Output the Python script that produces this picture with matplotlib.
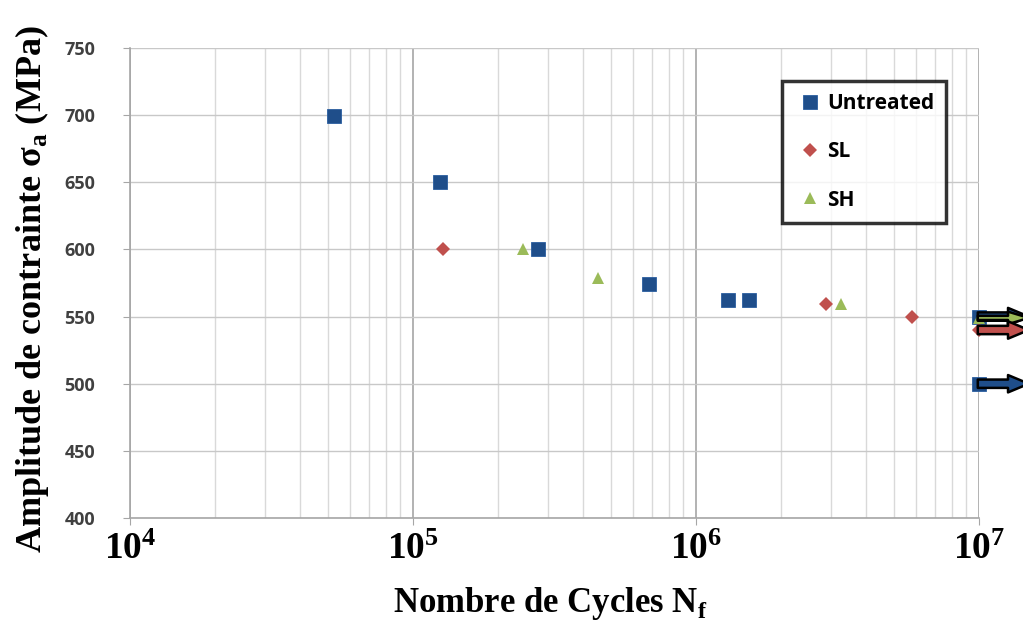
import numpy as np
import matplotlib
matplotlib.use('Agg')
from matplotlib import pyplot as plt
from matplotlib.ticker import LogLocator, FixedLocator, NullFormatter

plt.rcParams['mathtext.fontset'] = 'custom'
plt.rcParams['mathtext.rm'] = 'Liberation Serif:bold'
plt.rcParams['mathtext.bf'] = 'Liberation Serif:bold'

# essais de fatigue : cycles a rupture et amplitude de contrainte
untreated_N = [5.25e4, 1.25e5, 2.77e5, 6.8e5, 1.3e6, 1.54e6, 1.0e7, 1.0e7]
untreated_S = [699, 650, 600, 574, 562, 562, 550, 500]
sl_N = [1.28e5, 2.88e6, 5.8e6, 1.0e7]
sl_S = [600, 559, 550, 540]
sh_N = [2.45e5, 4.5e5, 3.25e6, 1.0e7]
sh_S = [600, 579, 559, 549]

# eprouvettes non rompues (fleches)
runout_S = [550, 549, 540, 500]
runout_col = ['#1f4e8a', '#9bbb59', '#c0504d', '#1f4e8a']

blue = '#1f4e8a'
red = '#c0504d'
green = '#9bbb59'

fig = plt.figure(figsize=(10.23, 6.23), dpi=100)
ax = fig.add_axes([0.127, 0.1685, 0.83, 0.7545])
ax.set_xscale('log')
ax.set_xlim(1e4, 1e7)
ax.set_ylim(400, 750)
ax.yaxis.set_major_locator(FixedLocator(np.arange(400, 751, 50)))
ax.xaxis.set_minor_locator(LogLocator(base=10, subs=np.arange(2, 10)))
ax.xaxis.set_minor_formatter(NullFormatter())

ax.grid(True, which='minor', axis='x', color='#d9d9d9', lw=1)
ax.grid(True, which='major', axis='x', color='#a6a6a6', lw=1.2)
ax.grid(True, which='major', axis='y', color='#c8c8c8', lw=1)
ax.set_axisbelow(True)
for s in ['top', 'right']:
    ax.spines[s].set_visible(False)
for s in ['left', 'bottom']:
    ax.spines[s].set_color('#a6a6a6')
    ax.spines[s].set_linewidth(1.2)
ax.tick_params(which='major', direction='out', length=5, color='#a6a6a6')
ax.tick_params(which='minor', length=0)

ax.plot(untreated_N, untreated_S, 's', color=blue, ms=9.5, mec='#2a5ea0', mew=0.6, label='Untreated', clip_on=False, zorder=3)
ax.plot(sl_N, sl_S, 'D', color=red, ms=7.2, mew=0, label='SL', clip_on=False, zorder=3)
ax.plot(sh_N, sh_S, '^', color=green, ms=9, mew=0, label='SH', clip_on=False, zorder=3)

for s, c in zip(runout_S, runout_col):
    w = 0.3 if c == green else 0.6
    hw = 0.9 if c == green else 1.25
    ax.annotate('', xy=(1.5e7, s), xytext=(0.99e7, s),
                arrowprops=dict(arrowstyle='simple,head_width=%g,head_length=1.5,tail_width=%g' % (hw, w),
                                fc=c, ec='black', lw=1.8, shrinkA=0, shrinkB=0),
                annotation_clip=False, zorder=4)

ax.set_yticklabels([str(v) for v in np.arange(400, 751, 50)],
                   fontdict=dict(family='Open Sans', weight='bold', size=13, color='#404040'))
ax.set_xticks([1e4, 1e5, 1e6, 1e7])
ax.set_xticklabels([r'$\mathbf{10^{4}}$', r'$\mathbf{10^{5}}$', r'$\mathbf{10^{6}}$', r'$\mathbf{10^{7}}$'],
                   fontsize=27)
ax.tick_params(axis='x', pad=4)
ax.tick_params(axis='y', pad=20)

ax.set_xlabel(r'Nombre de Cycles N$_\mathregular{f}$', family='Liberation Serif', weight='bold',
              fontsize=25)
ax.xaxis.set_label_coords(0.495, -0.143)
ax.set_ylabel(r'Amplitude de contrainte σ$_\mathregular{a}$ (MPa)', family='Liberation Serif',
              weight='bold', fontsize=26)
ax.yaxis.set_label_coords(-0.093, 0.487)

leg = ax.legend(loc='upper left', bbox_to_anchor=(0.768, 0.930), borderaxespad=0, frameon=True,
                fancybox=False, edgecolor='black', labelspacing=1.3, borderpad=0.6,
                handletextpad=0.05, handlelength=1.5,
                prop=dict(family='Open Sans', weight='bold', size=15))
leg.get_frame().set_linewidth(2.5)

fig.savefig('out.png', dpi=100)
